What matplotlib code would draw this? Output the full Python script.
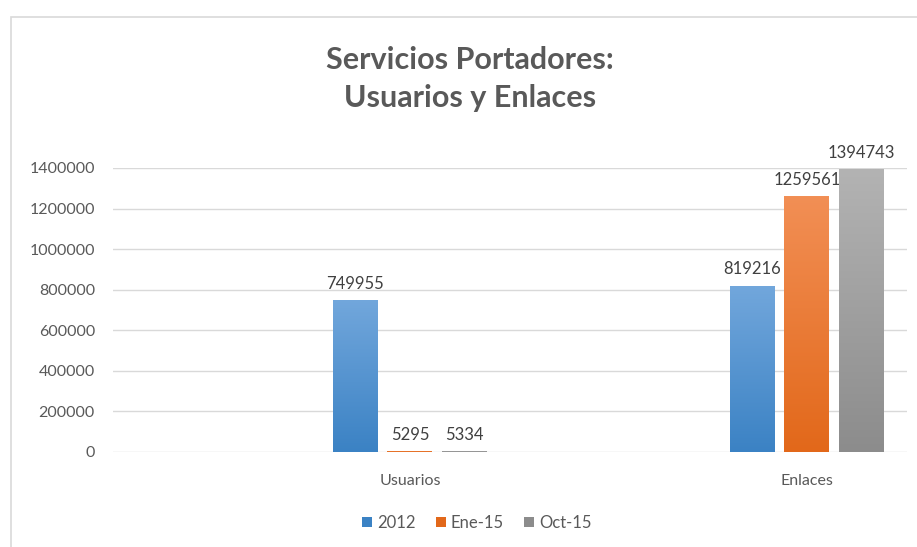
import matplotlib.pyplot as plt
from matplotlib.patches import Rectangle, Patch
import numpy as np

plt.rcParams['font.family'] = ['Lato', 'DejaVu Sans']

categories = ['Usuarios', 'Enlaces']
series = ['2012', 'Ene-15', 'Oct-15']
values_2012 = [749955, 819216]
values_ene15 = [5295, 1259561]
values_oct15 = [5334, 1394743]
yticks = [0, 200000, 400000, 600000, 800000, 1000000, 1200000, 1400000]

# (top colour, bottom colour) for the Excel-like gradient
colors = [('#72a7dc', '#3b82c4'), ('#f28f55', '#e2681a'), ('#b3b3b3', '#8c8c8c')]
text_col = '#595959'


def gradient_bar(ax, bar, top, bottom):
    x0, y0 = bar.get_x(), bar.get_y()
    w, h = bar.get_width(), bar.get_height()
    grad = np.linspace(0, 1, 256).reshape(-1, 1)
    c1 = np.array(plt.matplotlib.colors.to_rgb(top))
    c2 = np.array(plt.matplotlib.colors.to_rgb(bottom))
    img = c2 + (c1 - c2) * grad[:, :, None]
    im = ax.imshow(img, extent=(x0, x0 + w, y0, y0 + h), origin='lower',
                   aspect='auto', zorder=3)
    im.set_clip_path(bar)
    bar.set_facecolor('none')


fig = plt.figure(figsize=(9.17, 5.47), dpi=100)
ax = fig.add_axes([0.1232, 0.1737, 0.8658, 0.5192])

# outer chart frame
fig.patches.append(Rectangle((11 / 917, -0.1), 1.2, 1 - 17 / 547 + 0.1,
                             transform=fig.transFigure, fill=False,
                             edgecolor='#d9d9d9', linewidth=1.2))

x = np.arange(len(categories))
width = 0.113
offset = 0.138
all_vals = [values_2012, values_ene15, values_oct15]
for i, vals in enumerate(all_vals):
    bars = ax.bar(x + (i - 1) * offset, vals, width, zorder=3, linewidth=0)
    for b, v in zip(bars, vals):
        gradient_bar(ax, b, *colors[i])
        ax.annotate(str(v), (b.get_x() + b.get_width() / 2, v),
                    xytext=(0, 6), textcoords='offset points',
                    ha='center', va='bottom', fontsize=12, color='#404040')

ax.set_xlim(-0.748, 1.252)
ax.set_ylim(0, 1400000)
ax.set_yticks(yticks)
ax.set_yticklabels([str(t) for t in yticks])
ax.set_xticks(x)
ax.set_xticklabels(categories)
ax.tick_params(axis='both', length=0, labelsize=11.5, colors=text_col)
ax.tick_params(axis='y', pad=13)
ax.tick_params(axis='x', pad=16)
ax.grid(axis='y', color='#d9d9d9', linewidth=1, zorder=0)
for s in ax.spines.values():
    s.set_visible(False)

fig.text(470 / 917, 1 - 79 / 547, 'Servicios Portadores:\nUsuarios y Enlaces',
         ha='center', va='center', fontsize=22, fontweight='bold',
         color=text_col, linespacing=1.4)

handles = [Patch(facecolor=c[1]) for c in colors]
fig.legend(handles, series, loc='center', bbox_to_anchor=(477 / 917, 0.044),
           ncol=3, frameon=False, fontsize=12, handlelength=0.6,
           handleheight=0.6, handletextpad=0.3, columnspacing=1.2,
           labelcolor=text_col)

fig.savefig('out.png', dpi=100)
